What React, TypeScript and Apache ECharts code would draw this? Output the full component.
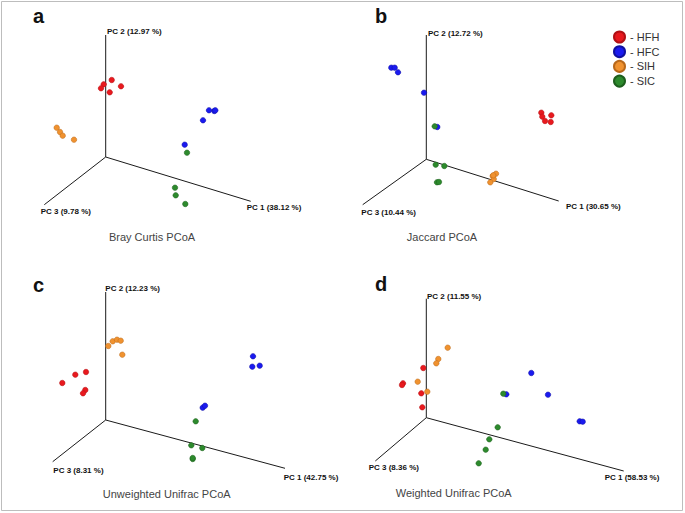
import React, { useEffect, useRef } from "react";
import * as echarts from "echarts";

const FONT = "'Liberation Sans', Arial, sans-serif";
const groups = ["HFH", "HFC", "SIH", "SIC"];
const groupColors = ["#e8191e", "#1a1aef", "#f0922f", "#2d8a2d"];
const groupBorders = ["#b01015", "#10109f", "#b8681a", "#1d5e1d"];

const panelLetters = ["a", "b", "c", "d"];
const panelTitles = ["Bray Curtis PCoA", "Jaccard PCoA", "Unweighted Unifrac PCoA", "Weighted Unifrac PCoA"];
const pc1Labels = ["PC 1 (38.12 %)", "PC 1 (30.65 %)", "PC 1 (42.75 %)", "PC 1 (58.53 %)"];
const pc2Labels = ["PC 2 (12.97 %)", "PC 2 (12.72 %)", "PC 2 (12.23 %)", "PC 2 (11.55 %)"];
const pc3Labels = ["PC 3 (9.78 %)", "PC 3 (10.44 %)", "PC 3 (8.31 %)", "PC 3 (8.36 %)"];

// projected axis frames: origin, PC1 end, PC2 end, PC3 end
const originPts = [[105.7, 157], [84.3, 159.3], [105.7, 164], [84.3, 161.7]];
const pc1Ends = [[250.7, 201.3], [216.7, 201], [285, 212.3], [281.7, 215]];
const pc2Ends = [[105.7, 35], [84.3, 35], [105.7, 36], [84.3, 42.7]];
const pc3Ends = [[44.3, 204.7], [20.7, 204.7], [52.7, 205.7], [33.3, 205]];

// Bray Curtis
const hfhA = [[111.7, 80], [103.7, 84.3], [101, 88.3], [109.7, 92.3], [121, 86.3]];
const hfcA = [[209, 110.3], [214.3, 111], [215.3, 110.3], [203, 120.3], [184.7, 144.7]];
const sihA = [[56.7, 127.7], [60, 132], [62.7, 135.7], [74, 139.7]];
const sicA = [[187, 152.7], [175, 187.7], [175.7, 195.3], [185.3, 204]];
// Jaccard
const hfhB = [[199.3, 112.7], [200.3, 116.7], [209.3, 115.3], [203, 121], [208.7, 122]];
const hfcB = [[49.3, 67.7], [52.7, 67.7], [56, 72.3], [82, 92.7], [95.3, 127]];
const sihB = [[154, 173.7], [150.7, 176], [151.7, 179], [148.3, 182.3], [151.3, 175.3]];
const sicB = [[92.7, 126.3], [93.7, 164.7], [102.3, 166], [95, 182.3], [97, 182]];
// Unweighted Unifrac
const hfhC = [[62.3, 127], [75.3, 118.7], [86, 116], [85.3, 134], [83, 137.3]];
const hfcC = [[253, 100.3], [252.3, 110.7], [259.7, 109.7], [202.7, 151.7], [205, 149.7]];
const sihC = [[108.3, 90], [112.7, 85.3], [117, 83.7], [120.7, 84.7], [122.3, 98.7]];
const sicC = [[195.7, 165.3], [191.3, 189.3], [202.3, 192], [192.7, 203], [192.7, 202]];
// Weighted Unifrac
const hfhD = [[81.3, 112], [61, 127.3], [60, 129], [79.3, 137.3], [80.3, 151.3]];
const hfcD = [[189.3, 117], [206, 138.7], [164.3, 138.3], [237.7, 165.3], [240.7, 165.7]];
const sihD = [[105.7, 91.7], [96.3, 103], [94.3, 107.3], [75.7, 125.7], [85.3, 135.7]];
const sicD = [[161.3, 137.7], [155.7, 171.3], [147.3, 183.3], [143.7, 193.7], [136.7, 207.3]];

const panelData = [
  [hfhA, hfcA, sihA, sicA],
  [hfhB, hfcB, sihB, sicB],
  [hfhC, hfcC, sihC, sicC],
  [hfhD, hfcD, sihD, sicD],
];

const PW = 342;
const PH = 256;
const offsets = [[0, 0], [342, 0], [0, 256], [342, 256]];

// label placement (absolute px)
const pc1Pos = [[246.7, 207.7], [566, 206.3], [283.7, 477], [604.7, 477.7]];
const pc2Pos = [[107, 31.7], [428, 33.7], [105.3, 288.3], [427, 296.3]];
const pc3Pos = [[40.7, 211], [361.3, 212], [53.3, 470.3], [368.7, 467.3]];
const titlePos = [[152, 237], [442, 237.3], [166.7, 493.7], [453.7, 493]];
const letterPos = [[33, 16], [375, 16], [33, 285], [375, 284]];

export default function App() {
  const ref = useRef<HTMLDivElement>(null);
  useEffect(() => {
    if (!ref.current) return;
    const chart = echarts.init(ref.current, undefined, { renderer: "svg" });
    const grid: any[] = [];
    const xAxis: any[] = [];
    const yAxis: any[] = [];
    const series: any[] = [];
    const graphic: any[] = [];
    for (let p = 0; p < 4; p++) {
      const [ox, oy] = offsets[p];
      grid.push({ left: ox, top: oy, width: PW, height: PH, show: false });
      xAxis.push({ type: "value", gridIndex: p, min: 0, max: PW, show: false });
      yAxis.push({ type: "value", gridIndex: p, min: 0, max: PH, inverse: true, show: false });
      series.push({
        type: "line",
        xAxisIndex: p,
        yAxisIndex: p,
        data: [pc3Ends[p], originPts[p], pc1Ends[p]],
        symbol: "none",
        lineStyle: { color: "#1a1a1a", width: 1 },
        silent: true,
        z: 1,
      });
      series.push({
        type: "line",
        xAxisIndex: p,
        yAxisIndex: p,
        data: [originPts[p], pc2Ends[p]],
        symbol: "none",
        lineStyle: { color: "#1a1a1a", width: 1 },
        silent: true,
        z: 1,
      });
      for (let g = 0; g < 4; g++) {
        series.push({
          type: "scatter",
          name: groups[g],
          xAxisIndex: p,
          yAxisIndex: p,
          data: panelData[p][g],
          symbolSize: 5.5,
          itemStyle: { color: groupColors[g], borderColor: groupBorders[g], borderWidth: 0.5, opacity: 1 },
          z: 2,
        });
      }
      const txt = (x: number, y: number, text: string, style: any) =>
        graphic.push({ type: "text", x, y, style: { text, fontFamily: FONT, ...style } });
      const axisStyle = { fontSize: 8, fontWeight: "bold", fill: "#111", verticalAlign: "middle" };
      txt(pc1Pos[p][0], pc1Pos[p][1], pc1Labels[p], axisStyle);
      txt(pc2Pos[p][0], pc2Pos[p][1], pc2Labels[p], axisStyle);
      txt(pc3Pos[p][0], pc3Pos[p][1], pc3Labels[p], axisStyle);
      txt(titlePos[p][0], titlePos[p][1], panelTitles[p], { fontSize: 11, fill: "#444", align: "center", verticalAlign: "middle" });
      txt(letterPos[p][0], letterPos[p][1], panelLetters[p], { fontSize: 20, fontWeight: "bold", fill: "#111", verticalAlign: "middle" });
    }
    graphic.push({
      type: "rect",
      shape: { x: 1.5, y: 1.5, width: 681, height: 509 },
      style: { fill: "none", stroke: "#bdbdbd", lineWidth: 1 },
      silent: true,
    });
    chart.setOption({
      animation: false,
      backgroundColor: "#ffffff",
      grid,
      xAxis,
      yAxis,
      series,
      graphic,
      legend: {
        data: groups,
        orient: "vertical",
        left: 613,
        top: 30.5,
        padding: 0,
        itemWidth: 11,
        itemHeight: 11,
        itemGap: 1.7,
        icon: "circle",
        formatter: "- {name}",
        textStyle: { fontSize: 11, color: "#333", fontFamily: FONT },
        selectedMode: false,
      },
    });
    return () => chart.dispose();
  }, []);
  return (
    <div
      ref={ref}
      style={{ position: "fixed", left: 0, top: 0, width: 685, height: 513 }}
    />
  );
}
